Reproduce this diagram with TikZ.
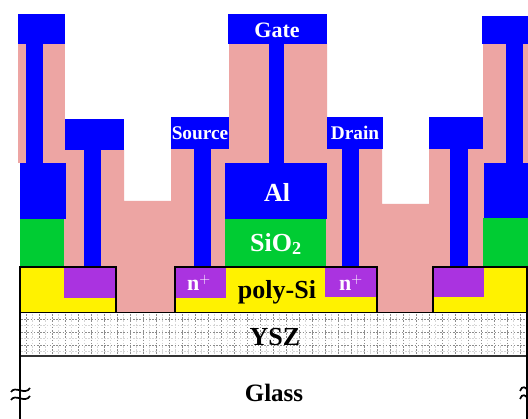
\documentclass[tikz,border=0pt]{standalone}
\usepackage{fontspec}
\setmainfont{Liberation Serif}
\definecolor{oxide}{HTML}{EDA5A3}
\definecolor{metal}{HTML}{0000FF}
\definecolor{gatei}{HTML}{00CC33}
\definecolor{nplus}{HTML}{AA33E0}
\definecolor{gridc}{HTML}{8C8C8C}
\definecolor{gridf}{HTML}{D4D4D4}
\tikzset{
  lbl/.style={font=\bfseries\fontsize{26}{26}\selectfont,inner sep=0pt},
  wlbl/.style={lbl,text=white},
  fillm/.style={fill=metal},
  filli/.style={fill=gatei},
  fillp/.style={fill=nplus},
  fillo/.style={fill=oxide},
  edge/.style={draw=black,line width=1.4pt},
  gridl/.style={gridc,line width=.5pt,dash pattern=on 1.6pt off 1.6pt},
  gridm/.style={gridf,line width=.5pt,dash pattern=on 1.6pt off 1.6pt},
  brk/.style={line width=1.7pt,black}
}
\begin{document}
\begin{tikzpicture}[x=1pt,y=-1pt]
\useasboundingbox (0,0) rectangle (528,419);
\fill[white] (0,0) rectangle (528,419);
% oxide
\fill[fillo] (18,44) rectangle (65,163);
\fill[fillo] (65,150) -- (124,150) -- (124,201) -- (171,201) -- (171,149) -- (229,149) -- (229,44) -- (327,44) -- (327,149) -- (382,149) -- (382,204) -- (429,204) -- (429,149) -- (483,149) -- (483,44) -- (528,44) -- (528,267) -- (20,267) -- (20,163) -- (65,163) -- cycle;
\fill[fillo] (116,267) rectangle (175,312);
\fill[fillo] (377,267) rectangle (433,312);
% gate insulators
\fill[filli] (20,219) rectangle (64,267);
\fill[filli] (225,219) rectangle (326,267);
\fill[filli] (483,218) rectangle (528,267);
% gate metal
\fill[fillm] (20,163) rectangle (66,219);
\fill[fillm] (225,163) rectangle (327,219);
\fill[fillm] (484,163) rectangle (528,218);
% metal pads and vias
\fill[fillm] (18,14) rectangle (65,44);
\fill[fillm] (26,44) rectangle (43,163);
\fill[fillm] (65,119) rectangle (124,150);
\fill[fillm] (84,150) rectangle (101,267);
\fill[fillm] (171,117) rectangle (229,149);
\fill[fillm] (194,149) rectangle (211,267);
\fill[fillm] (228,14) rectangle (327,44);
\fill[fillm] (269,44) rectangle (284,163);
\fill[fillm] (327,117) rectangle (383,149);
\fill[fillm] (342,149) rectangle (359,267);
\fill[fillm] (429,117) rectangle (483,149);
\fill[fillm] (450,149) rectangle (468,267);
\fill[fillm] (482,16) rectangle (528,44);
\fill[fillm] (506,44) rectangle (523,163);
% poly-Si
\fill[yellow] (20,267) rectangle (116,312);
\fill[yellow] (175,267) rectangle (377,312);
\fill[yellow] (433,267) rectangle (528,312);
\fill[fillp] (64,267) rectangle (116,298);
\fill[fillp] (175,267) rectangle (226,298);
\fill[fillp] (325,267) rectangle (377,297);
\fill[fillp] (433,267) rectangle (484,297);
\draw[edge] (20,312) -- (20,267) -- (116,267) -- (116,312);
\draw[edge] (175,312) -- (175,267) -- (377,267) -- (377,312);
\draw[edge] (433,312) -- (433,267) -- (527,267) -- (527,312);
% YSZ
\foreach \x in {26,39,...,526} {
  \draw[gridl] (\x,314) -- (\x,355);
}
\foreach \x in {32.5,45.5,...,526} {
  \draw[gridm] (\x,314) -- (\x,355);
}
\foreach \y in {319,332,345} {
  \draw[gridl] (21,\y) -- (527,\y);
}
\foreach \y in {325.5,338.5,351.5} {
  \draw[gridm] (21,\y) -- (527,\y);
}
\draw[edge,line width=1pt] (20,312.5) -- (528,312.5);
\draw[edge,draw=black!80] (20,356) -- (528,356);
\draw[edge] (20,312) -- (20,419);
\draw[edge] (527,312) -- (527,419);
% break marks
\foreach \d in {390,398} {
  \draw[brk] (11,\d+2) .. controls (15,\d-5) and (25,\d+6) .. (30,\d-2);
}
\foreach \d in {390,398} {
  \draw[brk] (520,\d+1) .. controls (522,\d-5) and (526,\d-3) .. (528,\d+1);
}
% labels
\node[wlbl,font=\bfseries\fontsize{22}{22}\selectfont] (gate) at (277,30) {Gate};
\node[wlbl,font=\bfseries\fontsize{19.3}{19}\selectfont] (source) at (200,133) {Source};
\node[wlbl,font=\bfseries\fontsize{19.3}{19}\selectfont] (drain) at (355,133) {Drain};
\node[wlbl] (al) at (277,192) {Al};
\node[wlbl] (sio) at (276,244) {SiO$_{\mathbf 2}$};
\node[lbl] (poly) at (277,292) {poly-Si};
\node[wlbl,font=\bfseries\fontsize{22}{22}\selectfont] (nl) at (199,283) {n$^{+}$};
\node[wlbl,font=\bfseries\fontsize{22}{22}\selectfont] (nr) at (351,283) {n$^{+}$};
\node[lbl] (ysz) at (275,337) {YSZ};
\node[lbl,font=\bfseries\fontsize{25}{25}\selectfont] (glass) at (274,393) {Glass};
\end{tikzpicture}
\end{document}
